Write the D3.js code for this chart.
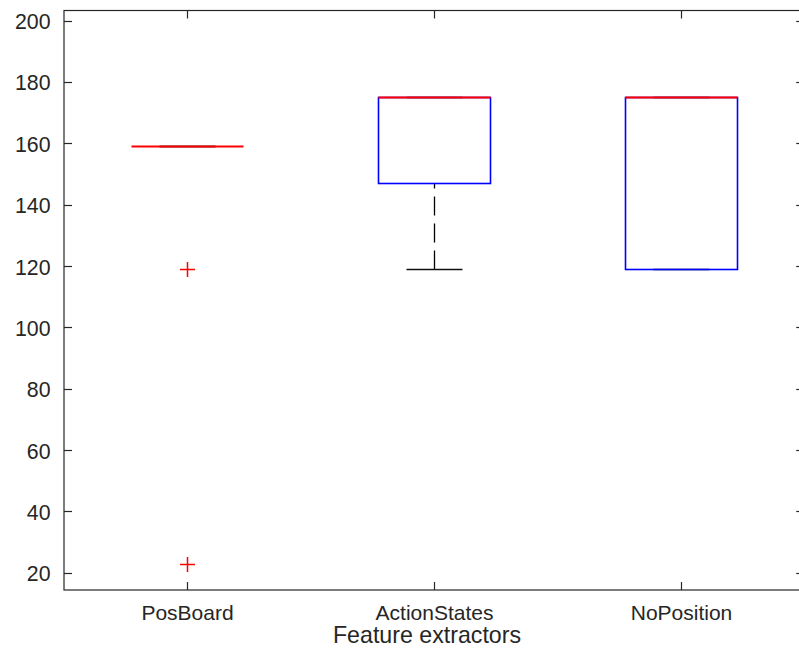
<!DOCTYPE html>
<html>
<head>
<meta charset="utf-8">
<script src="https://cdn.jsdelivr.net/npm/d3@7"></script>
<style>
  html, body { margin: 0; padding: 0; background: #fff; }
  svg { display: block; }
  text { font-family: "Liberation Sans", Arial, Helvetica, sans-serif; fill: #262626; }
</style>
</head>
<body>
<svg id="chart" width="799" height="655"></svg>
<script>
// Box-plot summary per feature extractor
const categories   = ["PosBoard", "ActionStates", "NoPosition"];
const lowerWhisker = [159, 119, 119];
const quartile1    = [159, 147, 119];
const medians      = [159, 175, 175];
const quartile3    = [159, 175, 175];
const upperWhisker = [159, 175, 175];

// Points flagged as outliers
const outlierGroup = ["PosBoard", "PosBoard"];
const outlierValue = [119, 23];

const yTickValues = [20, 40, 60, 80, 100, 120, 140, 160, 180, 200];
const xAxisTitle = "Feature extractors";

(function draw() {
  const svg = d3.select("#chart");
  const ink = "#262626";

  // Plot box (right edge runs just past the window)
  const plotLeft = 64, plotRight = 804.25, plotTop = 10.5, plotBottom = 590;

  const x = d3.scaleLinear().domain([0.5, categories.length + 0.5]).range([plotLeft, plotRight]);
  const y = d3.scaleLinear().domain([14.37, 203.3]).range([plotBottom, plotTop]);
  const pos = name => Math.round(x(categories.indexOf(name) + 1)) + 0.5;
  const py = v => Math.round(y(v)) + 0.5;   // pixel-aligned vertical position

  const boxHalf = 0.227;   // in category units
  const capHalf = 0.1135;
  const tickLen = 8;

  const g = svg.append("g");

  // Whiskers (dashed), drawn from the whisker end towards the box
  categories.forEach((c, i) => {
    const cx = pos(c);
    [[upperWhisker[i], quartile3[i]], [lowerWhisker[i], quartile1[i]]].forEach(([a, b]) => {
      g.append("path")
        .attr("d", d3.line()([[cx, py(a)], [cx, py(b)]]))
        .attr("stroke", "#000").attr("stroke-width", 1.3)
        .attr("stroke-dasharray", "19,8").attr("fill", "none");
    });
  });

  // Whisker caps
  const capW = Math.round(x(1 + capHalf) - x(1));
  categories.forEach((c, i) => {
    const cx = pos(c);
    [lowerWhisker[i], upperWhisker[i]].forEach(v => {
      g.append("line")
        .attr("x1", cx - capW).attr("x2", cx + capW)
        .attr("y1", py(v)).attr("y2", py(v))
        .attr("stroke", "#111").attr("stroke-width", 1.5);
    });
  });

  // Boxes
  const boxW = Math.round(x(1 + boxHalf) - x(1));
  categories.forEach((c, i) => {
    const cx = pos(c);
    g.append("rect")
      .attr("x", cx - boxW).attr("width", 2 * boxW)
      .attr("y", py(quartile3[i])).attr("height", Math.max(0, py(quartile1[i]) - py(quartile3[i])))
      .attr("fill", "none").attr("stroke", "#0000ff").attr("stroke-width", 1.6);
  });

  // Medians
  categories.forEach((c, i) => {
    const cx = pos(c);
    g.append("line")
      .attr("x1", cx - boxW).attr("x2", cx + boxW)
      .attr("y1", py(medians[i])).attr("y2", py(medians[i]))
      .attr("stroke", "#ff0000").attr("stroke-width", 1.8);
  });

  // Outlier markers (+)
  outlierValue.forEach((v, k) => {
    const cx = pos(outlierGroup[k]), cy = py(v), r = 7.5;
    g.append("path")
      .attr("d", `M${cx - r},${cy}H${cx + r}M${cx},${cy - r}V${cy + r}`)
      .attr("stroke", "#ff0000").attr("stroke-width", 1.5).attr("fill", "none");
  });

  // Axes frame with inward ticks
  const axes = svg.append("g");
  axes.append("rect")
    .attr("x", plotLeft).attr("y", plotTop).attr("width", plotRight - plotLeft).attr("height", plotBottom - plotTop)
    .attr("fill", "none").attr("stroke", ink).attr("stroke-width", 1.2);

  yTickValues.forEach(v => {
    const ty = py(v);
    axes.append("line").attr("x1", plotLeft).attr("x2", plotLeft + tickLen).attr("y1", ty).attr("y2", ty)
      .attr("stroke", ink).attr("stroke-width", 1.2);
    axes.append("line").attr("x1", plotRight).attr("x2", plotRight - tickLen).attr("y1", ty).attr("y2", ty)
      .attr("stroke", ink).attr("stroke-width", 1.2);
    axes.append("text")
      .attr("x", 50.5).attr("y", y(v) + 8.5)
      .attr("text-anchor", "end").attr("font-size", "21.3px")
      .text(v);
  });

  categories.forEach(c => {
    const tx = pos(c);
    axes.append("line").attr("x1", tx).attr("x2", tx).attr("y1", plotBottom).attr("y2", plotBottom - tickLen)
      .attr("stroke", ink).attr("stroke-width", 1.2);
    axes.append("line").attr("x1", tx).attr("x2", tx).attr("y1", plotTop).attr("y2", plotTop + tickLen)
      .attr("stroke", ink).attr("stroke-width", 1.2);
    axes.append("text")
      .attr("x", tx).attr("y", 619.5)
      .attr("text-anchor", "middle").attr("font-size", "21px")
      .text(c);
  });

  axes.append("text")
    .attr("x", 427).attr("y", 643)
    .attr("text-anchor", "middle").attr("font-size", "23.2px")
    .text(xAxisTitle);
})();
</script>
</body>
</html>
